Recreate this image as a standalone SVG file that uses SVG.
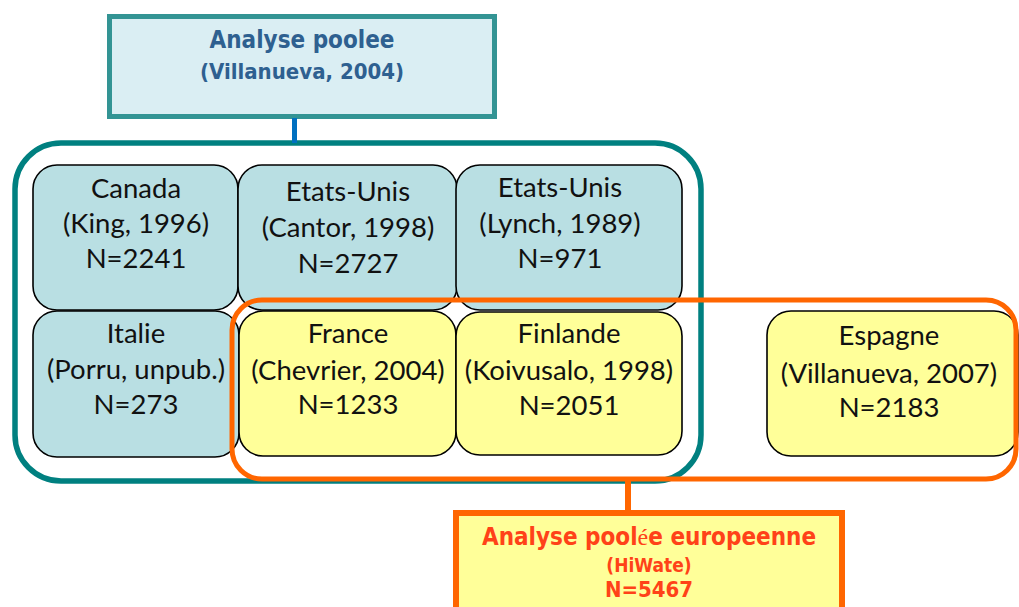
<svg xmlns="http://www.w3.org/2000/svg" width="1019" height="607" viewBox="0 0 1019 607">
<style>
.node rect{stroke:#000;stroke-width:1.6}
.blue rect{fill:#B9DFE3}
.yel rect{fill:#FFFF99}
.node text{font-family:Lato,"Liberation Sans",sans-serif;font-size:27.5px;fill:#111;text-anchor:middle}
.ttl{font-family:"DejaVu Sans Condensed","DejaVu Sans",sans-serif;font-weight:bold;text-anchor:middle;font-stretch:condensed}
</style>
<rect width="1019" height="607" fill="#fff"/>
<g id="group-teal">
<rect x="15" y="143" width="686" height="338" rx="46" fill="none" stroke="#008080" stroke-width="5.5"/>
</g>
<g id="node-top">
<rect x="109.5" y="16.5" width="385" height="100" fill="#DAEEF3" stroke="#339494" stroke-width="5"/>
<text class="ttl" x="302" y="48" font-size="24" fill="#2E6090">Analyse poolee</text>
<text class="ttl" x="302" y="79" font-size="22" fill="#2E6090">(Villanueva, 2004)</text>
</g>
<g id="node-canada" class="node blue">
<rect x="33" y="165" width="205" height="145" rx="24"/>
<text x="136" y="198">Canada</text><text x="136" y="233">(King, 1996)</text><text x="136" y="268">N=2241</text>
</g>
<g id="node-cantor" class="node blue">
<rect x="238" y="165" width="219" height="145" rx="24"/>
<text x="348" y="201">Etats-Unis</text><text x="348" y="237">(Cantor, 1998)</text><text x="348" y="273">N=2727</text>
</g>
<g id="node-lynch" class="node blue">
<rect x="456" y="165" width="226" height="145" rx="24"/>
<text x="560" y="197">Etats-Unis</text><text x="560" y="233">(Lynch, 1989)</text><text x="560" y="268">N=971</text>
</g>
<g id="node-italie" class="node blue">
<rect x="33" y="311" width="206" height="146" rx="24"/>
<text x="136" y="343">Italie</text><text x="136" y="379">(Porru, unpub.)</text><text x="136" y="414">N=273</text>
</g>
<g id="node-france" class="node yel">
<rect x="239" y="311" width="217" height="145" rx="24"/>
<text x="348" y="343">France</text><text x="348" y="380">(Chevrier, 2004)</text><text x="348" y="414">N=1233</text>
</g>
<g id="node-finlande" class="node yel">
<rect x="456" y="312" width="226" height="143" rx="24"/>
<text x="569" y="343">Finlande</text><text x="569" y="380">(Koivusalo, 1998)</text><text x="569" y="415">N=2051</text>
</g>
<g id="node-espagne" class="node yel">
<rect x="767" y="311" width="251" height="145" rx="24"/>
<text x="889" y="345">Espagne</text><text x="889" y="383">(Villanueva, 2007)</text><text x="889" y="417">N=2183</text>
</g>
<g id="group-orange">
<rect x="232" y="300" width="784" height="179" rx="30" fill="none" stroke="#FF6600" stroke-width="5"/>
</g>
<g id="connectors">
<line x1="294.5" y1="118" x2="294.5" y2="143" stroke="#0070C0" stroke-width="5"/>
<line x1="628" y1="479" x2="628" y2="513" stroke="#FF6600" stroke-width="6"/>
</g>
<g id="node-bottom">
<rect x="456" y="513" width="386" height="110" fill="#FFFF99" stroke="#FF6600" stroke-width="6"/>
<text class="ttl" x="649" y="545" font-size="24" fill="#FF4218">Analyse pool<tspan font-family="Liberation Serif,serif" font-weight="normal">é</tspan>e europeenne</text>
<text class="ttl" x="649" y="572" font-size="19" fill="#FF4218">(HiWate)</text>
<text class="ttl" x="649" y="597" font-size="22" fill="#FF4218">N=5467</text>
</g>
</svg>
